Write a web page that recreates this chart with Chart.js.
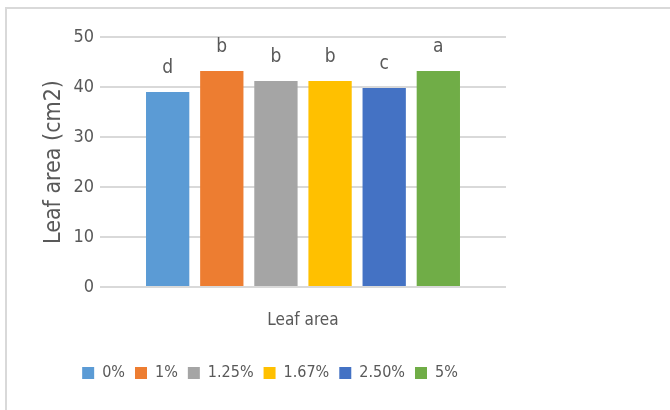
<!DOCTYPE html>
<html>
<head>
<meta charset="utf-8">
<script src="https://cdn.jsdelivr.net/npm/chart.js@4"></script>
<style>
html,body{margin:0;padding:0;background:#fff;}
#wrap{position:relative;width:670px;height:410px;overflow:hidden;}
#frame{position:absolute;left:5px;top:7px;width:700px;height:450px;border-left:2px solid #D9D9D9;border-top:2px solid #D9D9D9;}
canvas{position:absolute;left:0;top:0;}
</style>
</head>
<body>
<div id="wrap"><div id="frame"></div><canvas id="c" width="670" height="410"></canvas></div>
<script>
const categories = ["Leaf area"];
const seriesNames = ["0%", "1%", "1.25%", "1.67%", "2.50%", "5%"];
const seriesValues = [39.0, 43.2, 41.2, 41.2, 39.8, 43.2];
const significanceLetters = ["d", "b", "b", "b", "c", "a"];
const seriesColors = ["#5B9BD5", "#ED7D31", "#A5A5A5", "#FFC000", "#4472C4", "#70AD47"];
const yTicks = [0, 10, 20, 30, 40, 50];
const yTitle = "Leaf area (cm2)";

const FONT = "'Liberation Sans Narrow', 'DejaVu Sans Condensed', 'Liberation Sans', sans-serif";
const TXT = "#595959";

const letterPlugin = {
  id: "letters",
  afterDatasetsDraw(chart) {
    const ctx = chart.ctx;
    ctx.save();
    ctx.fillStyle = TXT;
    ctx.font = "19px " + FONT;
    ctx.textAlign = "center";
    ctx.textBaseline = "middle";
    chart.data.datasets.forEach((ds, i) => {
      const meta = chart.getDatasetMeta(i);
      meta.data.forEach(el => {
        ctx.fillText(significanceLetters[i], el.x, el.y - 24);
      });
    });
    ctx.restore();
  }
};

new Chart(document.getElementById("c"), {
  type: "bar",
  data: {
    labels: categories,
    datasets: seriesNames.map((n, i) => ({
      label: n,
      data: [seriesValues[i]],
      backgroundColor: seriesColors[i],
      borderWidth: 0,
      categoryPercentage: 0.8,
      barPercentage: 0.8
    }))
  },
  options: {
    responsive: false,
    animation: false,
    devicePixelRatio: 1,
    layout: { padding: { left: 34, right: 164, top: 37, bottom: 19 } },
    plugins: {
      tooltip: { enabled: false },
      legend: {
        position: "bottom",
        labels: {
          color: TXT,
          font: { family: FONT, size: 16 },
          boxWidth: 12,
          boxHeight: 12,
          padding: 10
        }
      }
    },
    scales: {
      x: {
        grid: { display: false },
        border: { display: false },
        ticks: { display: false },
        title: { display: true, text: categories[0], color: TXT, font: { family: FONT, size: 17 }, padding: { top: 0, bottom: 24 } },
        afterFit(s) { s.height = 68; }
      },
      y: {
        min: 0, max: 50,
        afterBuildTicks(s) { s.ticks = yTicks.map(v => ({ value: v })); },
        grid: { color: "#D9D9D9", lineWidth: 2, drawTicks: false },
        border: { display: false },
        ticks: { color: TXT, font: { family: FONT, size: 18 }, padding: 6 },
        title: { display: true, text: yTitle, color: TXT, font: { family: FONT, size: 23 }, padding: { top: 6, bottom: 0 } },
        afterFit(s) { s.width = 66; }
      }
    }
  },
  plugins: [letterPlugin]
});
</script>
</body>
</html>
